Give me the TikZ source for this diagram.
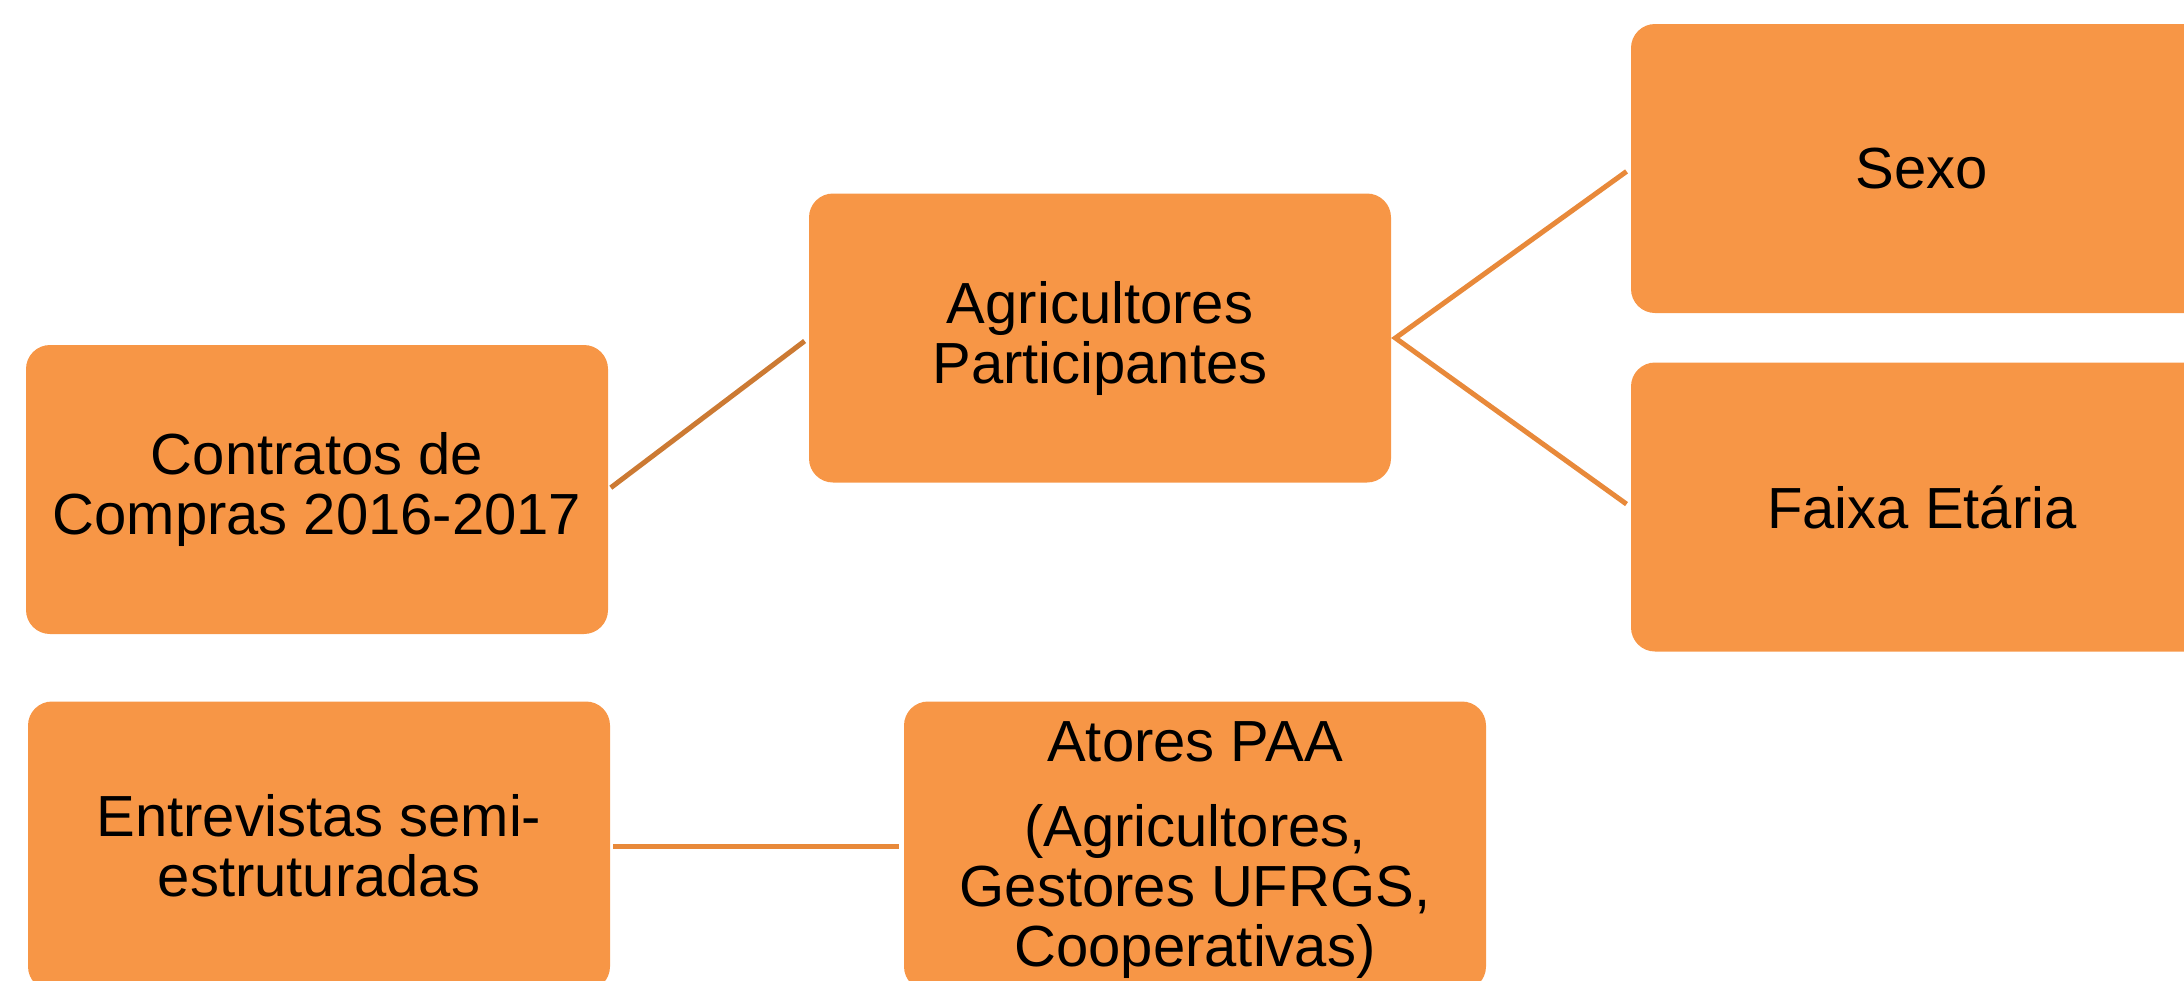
\documentclass[tikz,border=0pt]{standalone}
\usepackage{fontspec}
\setmainfont{Liberation Sans}
\definecolor{boxfill}{HTML}{F79646}
\definecolor{linedark}{HTML}{CC7A33}
\definecolor{linelight}{HTML}{E8893A}
\begin{document}
\begin{tikzpicture}[x=0.5pt,y=-0.5pt,
  orangebox/.style={fill=boxfill, draw=none, rounded corners=12pt,
    minimum width=291pt, minimum height=144.5pt, inner sep=0pt,
    align=center, font=\fontsize{29}{30}\selectfont},
  boxtext/.style={font=\fontsize{29}{30}\selectfont, inner sep=0pt, anchor=base},
  conn/.style={line width=2.5pt, shorten <=1.5pt, shorten >=2.5pt},
  forkconn/.style={line width=2.5pt, line join=miter, shorten <=2.5pt, shorten >=2.5pt}]
\useasboundingbox (0,0) rectangle (2184,980);
\node[orangebox] (contr) at (317,489.5) {Contratos de\\Compras 2016-2017};
\node[orangebox] (agric) at (1100,338) {Agricultores\\Participantes};
\node[orangebox] (sexo) at (1922,168.5) {Sexo};
\node[orangebox] (faixa) at (1922,507) {Faixa Etária};
\node[orangebox] (entrev) at (319,846) {Entrevistas semi-\\estruturadas};
\node[orangebox] (atores) at (1195,846) {};
\node[boxtext] (at1) at (1195,761) {Atores PAA};
\node[boxtext] (at2) at (1195,846) {(Agricultores,};
\node[boxtext] (at3) at (1195,906) {Gestores UFRGS,};
\node[boxtext] (at4) at (1195,966) {Cooperativas)};
\coordinate (fork) at ([xshift=2pt]agric.east);
\draw[conn, linedark] (contr.east) -- (agric.west);
\draw[forkconn, linelight] (sexo.west) -- (fork) -- (faixa.west);
\draw[conn, linelight] (entrev.east) -- (atores.west);
\end{tikzpicture}
\end{document}
